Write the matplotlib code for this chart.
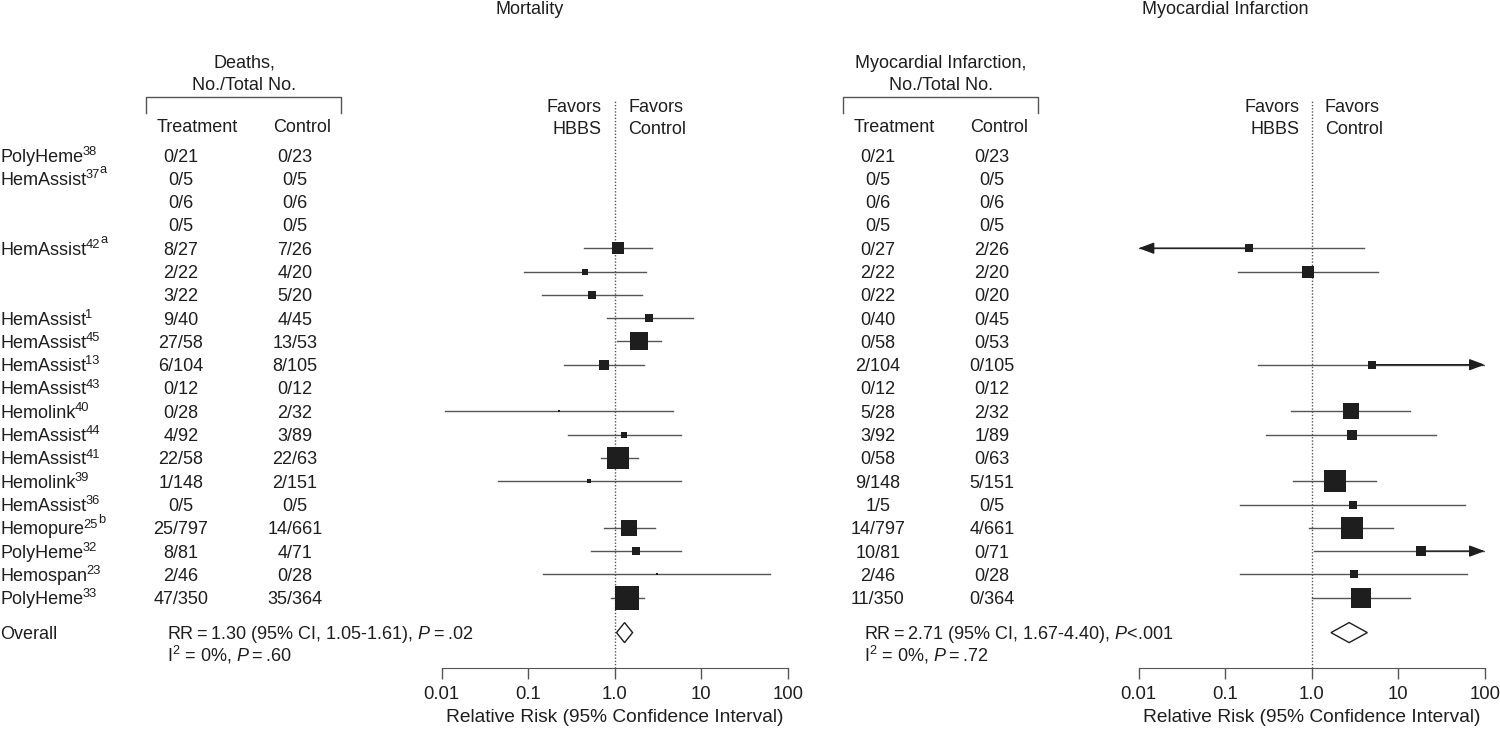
import numpy as np
import matplotlib
matplotlib.use("Agg")
import matplotlib.pyplot as plt
from matplotlib.ticker import NullLocator

plt.rcParams['font.family'] = ['Liberation Sans', 'DejaVu Sans']
plt.rcParams['mathtext.fontset'] = 'custom'
plt.rcParams['mathtext.rm'] = 'Liberation Sans'
plt.rcParams['mathtext.it'] = 'Liberation Sans:italic'
plt.rcParams['mathtext.bf'] = 'Liberation Sans:bold'
plt.rcParams['font.size'] = 13

INK = '#1e1e1e'
LINE = '#555555'
nan = np.nan
inf = np.inf

# study rows, top to bottom ('' = another arm of the study above)
studies = ['PolyHeme', 'HemAssist', '', '', 'HemAssist', '', '', 'HemAssist',
           'HemAssist', 'HemAssist', 'HemAssist', 'Hemolink', 'HemAssist', 'HemAssist',
           'Hemolink', 'HemAssist', 'Hemopure', 'PolyHeme', 'Hemospan', 'PolyHeme']
refs = ['38', '37', '', '', '42', '', '', '1', '45', '13',
        '43', '40', '44', '41', '39', '36', '25', '32', '23', '33']
notes = ['', 'a', '', '', 'a', '', '', '', '', '',
         '', '', '', '', '', '', 'b', '', '', '']

# mortality: events/total
death_trt = ['0/21', '0/5', '0/6', '0/5', '8/27', '2/22', '3/22', '9/40', '27/58', '6/104',
             '0/12', '0/28', '4/92', '22/58', '1/148', '0/5', '25/797', '8/81', '2/46', '47/350']
death_ctl = ['0/23', '0/5', '0/6', '0/5', '7/26', '4/20', '5/20', '4/45', '13/53', '8/105',
             '0/12', '2/32', '3/89', '22/63', '2/151', '0/5', '14/661', '4/71', '0/28', '35/364']
mort_rr = [nan, nan, nan, nan, 1.09, 0.45, 0.55, 2.5, 1.9, 0.76,
           nan, 0.23, 1.28, 1.09, 0.50, nan, 1.46, 1.76, 3.1, 1.39]
mort_lo = [nan, nan, nan, nan, 0.44, 0.089, 0.145, 0.81, 1.06, 0.26,
           nan, 0.011, 0.29, 0.69, 0.045, nan, 0.75, 0.53, 0.15, 0.91]
mort_hi = [nan, nan, nan, nan, 2.7, 2.3, 2.07, 8.0, 3.4, 2.2,
           nan, 4.7, 5.9, 1.86, 5.9, nan, 2.9, 5.9, 63, 2.2]
mort_w = [nan, nan, nan, nan, 6.3, 1.6, 2.8, 3.6, 14.2, 4.4,
          nan, 0.4, 2.2, 21.2, 0.7, nan, 11.2, 3.6, 0.4, 27.4]
mort_pooled = (1.30, 1.05, 1.61)

# myocardial infarction: events/total
mi_trt = ['0/21', '0/5', '0/6', '0/5', '0/27', '2/22', '0/22', '0/40', '0/58', '2/104',
          '0/12', '5/28', '3/92', '0/58', '9/148', '1/5', '14/797', '10/81', '2/46', '11/350']
mi_ctl = ['0/23', '0/5', '0/6', '0/5', '2/26', '2/20', '0/20', '0/45', '0/53', '0/105',
          '0/12', '2/32', '1/89', '0/63', '5/151', '0/5', '4/661', '0/71', '0/28', '0/364']
mi_rr = [nan, nan, nan, nan, 0.19, 0.91, nan, nan, nan, 5.0,
         nan, 2.86, 2.9, nan, 1.84, 3.0, 2.9, 18.4, 3.09, 3.75]
mi_lo = [nan, nan, nan, nan, 0.0, 0.14, nan, nan, nan, 0.24,
         nan, 0.57, 0.30, nan, 0.60, 0.15, 0.93, 1.05, 0.15, 1.02]
mi_hi = [nan, nan, nan, nan, 4.0, 5.9, nan, nan, nan, inf,
         nan, 13.8, 27, nan, 5.5, 59, 8.7, inf, 62, 13.7]
mi_w = [nan, nan, nan, nan, 2.3, 6.8, nan, nan, nan, 2.3,
        nan, 12.2, 4.7, nan, 23.0, 2.3, 23.0, 3.8, 2.3, 17.1]
mi_pooled = (2.71, 1.67, 4.40)

W, H = 1500, 733
row_y = 155 + 23.3 * np.arange(len(studies))
overall_y = 632.6

fig = plt.figure(figsize=(W / 100, H / 100), dpi=100)
tx = fig.add_axes([0, 0, 1, 1])
tx.set_xlim(0, W)
tx.set_ylim(H, 0)
tx.axis('off')


def forest(x0, rr, lo, hi, w, pooled):
    ax = fig.add_axes([x0 / W, 1 - 668 / H, 346 / W, 568 / H])
    ax.set_zorder(2)
    ax.patch.set_visible(False)
    ax.set_xscale('log')
    ax.set_xlim(0.01, 100)
    ax.set_ylim(668, 100)
    ax.axvline(1, color=LINE, lw=1, ls=(0, (1, 1.3)), zorder=1)
    for y, r, l, h, ww in zip(row_y, rr, lo, hi, w):
        if np.isnan(r):
            continue
        ax.plot([max(l, 0.01), min(h, 100)], [y, y], color=LINE, lw=1, zorder=2)
        for tip in ([0.01] if l < 0.01 else []) + ([100] if h > 100 else []):
            ax.annotate('', xy=(tip, y), xytext=(r, y),
                        arrowprops=dict(arrowstyle='-|>,head_length=0.72,head_width=0.27',
                                        color=INK, lw=1, shrinkA=0, shrinkB=0))
        ax.scatter([r], [y], s=ww * 11.5, marker='s', color=INK, linewidths=0, zorder=3)
    p, pl, ph = pooled
    ax.fill([pl, p, ph, p], [overall_y, overall_y - 10, overall_y, overall_y + 10],
            facecolor='white', edgecolor=INK, lw=1, zorder=3)
    for s in ['top', 'right', 'left']:
        ax.spines[s].set_visible(False)
    ax.spines['bottom'].set_color(LINE)
    ax.set_yticks([])
    ax.set_xticks([0.01, 0.1, 1, 10, 100], labels=['0.01', '0.1', '1.0', '10', '100'])
    ax.xaxis.set_minor_locator(NullLocator())
    ax.tick_params(axis='x', length=8, width=1, color=LINE, pad=5, labelcolor=INK,
                   labelsize=13.3)
    ax.set_xlabel('Relative Risk (95% Confidence Interval)', labelpad=4, color=INK,
                  fontsize=13.8)
    return ax


def table(off, head, trt, ctl, pooled, het, ptxt, title, title_x):
    tx.text(title_x, 10, title, ha='center', va='center', color=INK)
    tx.text(244 + off, 63, head, ha='center', va='center', color=INK)
    tx.text(244 + off, 85, 'No./Total No.', ha='center', va='center', color=INK)
    tx.plot(np.array([146, 146, 341, 341]) + off, [113, 97, 97, 113], color=LINE, lw=1)
    tx.text(197.5 + off, 128, 'Treatment', ha='center', va='center', color=INK)
    tx.text(301.7 + off, 128, 'Control', ha='center', va='center', color=INK)
    for y, a, b in zip(row_y, trt, ctl):
        tx.text(181 + off, y + 6.5, a, ha='center', va='baseline', color=INK)
        tx.text(295 + off, y + 6.5, b, ha='center', va='baseline', color=INK)
    tx.text(602 + off, 108, 'Favors', ha='right', va='center', color=INK)
    tx.text(602 + off, 129, 'HBBS', ha='right', va='center', color=INK)
    tx.text(628 + off, 108, 'Favors', ha='left', va='center', color=INK)
    tx.text(628 + off, 129, 'Control', ha='left', va='center', color=INK)
    p, pl, ph = pooled
    tx.text(167 + off, overall_y + 6.5,
            'RR\u2009=\u2009%.2f (95%% CI, %.2f-%.2f), $P$%s' % (p, pl, ph, ptxt),
            ha='left', va='baseline', color=INK)
    tx.text(167 + off, overall_y + 29,
            'I$^{2}$ = 0%%, $P$\u2009=\u2009%s' % het,
            ha='left', va='baseline', color=INK)


# study names with reference superscripts (and footnote letters above them)
for y, s, r, n in zip(row_y, studies, refs, notes):
    if not s:
        continue
    t = tx.text(0, y + 6.5, s, ha='left', va='baseline', color=INK)
    sup = tx.annotate(r, xy=(1, 0), xycoords=t, xytext=(-0.6, 5.6),
                      textcoords='offset points', fontsize=9.3, va='bottom',
                      ha='left', color=INK)
    if n:
        tx.annotate(n, xy=(1, 0), xycoords=sup, xytext=(0.2, 3.4),
                    textcoords='offset points', fontsize=9.3, va='bottom',
                    ha='left', color=INK)
tx.text(0, overall_y + 6.5, 'Overall', ha='left', va='baseline', color=INK)

table(0, 'Deaths,', death_trt, death_ctl, mort_pooled, '.60', '\u2009=\u2009.02',
      'Mortality', 530)
table(697, 'Myocardial Infarction,', mi_trt, mi_ctl, mi_pooled, '.72', '<.001',
      'Myocardial Infarction', 1225)

forest(441.7, mort_rr, mort_lo, mort_hi, mort_w, mort_pooled)
forest(1138.7, mi_rr, mi_lo, mi_hi, mi_w, mi_pooled)

fig.savefig('out.png', dpi=100)
